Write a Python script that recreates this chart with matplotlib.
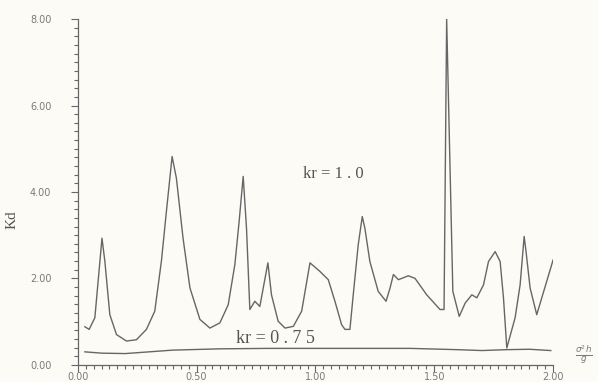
#!/usr/bin/env python3
"""
Redraw the scanned Kd vs sigma^2 h / g plot for kr = 1.0 and kr = 0.75.
"""
import matplotlib
matplotlib.use('Agg')
import matplotlib.pyplot as plt
from matplotlib.ticker import MultipleLocator, FormatStrFormatter

# kr = 1.0 curve
kr1_x = [0.03, 0.048, 0.072, 0.102, 0.114, 0.135, 0.163, 0.205, 0.247, 0.289,
         0.324, 0.352, 0.373, 0.397, 0.415, 0.443, 0.472, 0.514, 0.556, 0.598,
         0.633, 0.661, 0.679, 0.696, 0.71, 0.724, 0.745, 0.766, 0.80, 0.815,
         0.843, 0.872, 0.907, 0.942, 0.977, 1.019, 1.054, 1.082, 1.11, 1.124,
         1.145, 1.159, 1.18, 1.197, 1.208, 1.229, 1.264, 1.297, 1.314, 1.328,
         1.349, 1.391, 1.419, 1.468, 1.524, 1.541, 1.552, 1.578, 1.605, 1.63,
         1.658, 1.679, 1.707, 1.728, 1.756, 1.777, 1.791, 1.805, 1.84, 1.861,
         1.878, 1.886, 1.903, 1.931, 2.0]
kr1_y = [0.88, 0.82, 1.09, 2.93, 2.4, 1.16, 0.70, 0.55, 0.58, 0.82,
         1.24, 2.4, 3.55, 4.82, 4.32, 2.93, 1.78, 1.05, 0.85, 0.97,
         1.39, 2.32, 3.32, 4.36, 3.16, 1.28, 1.47, 1.35, 2.36, 1.62,
         1.01, 0.85, 0.89, 1.24, 2.36, 2.16, 1.97, 1.47, 0.93, 0.82,
         0.82, 1.62, 2.78, 3.43, 3.16, 2.39, 1.70, 1.47, 1.78, 2.09,
         1.97, 2.06, 2.0, 1.62, 1.28, 1.28, 8.0, 1.70, 1.12, 1.43,
         1.62, 1.55, 1.85, 2.39, 2.62, 2.39, 1.55, 0.39, 1.09, 1.85,
         2.97, 2.62, 1.78, 1.16, 2.43]

# kr = 0.75 curve
kr75_x = [0.03, 0.1, 0.2, 0.3, 0.4, 0.6, 0.8, 1.0, 1.2, 1.4, 1.6, 1.7, 1.8, 1.9, 1.99]
kr75_y = [0.30, 0.27, 0.26, 0.30, 0.34, 0.37, 0.38, 0.38, 0.38, 0.38, 0.35, 0.33, 0.35, 0.36, 0.33]

x_ticks = [0.0, 0.5, 1.0, 1.5, 2.0]
y_ticks = [0.0, 2.0, 4.0, 6.0, 8.0]

LINE = '#666666'
TEXT = '#7a7a7a'


def main():
    fig = plt.figure(figsize=(5.98, 3.82), dpi=100, facecolor='#fcfbf6')
    ax = fig.add_axes([0.130, 0.045, 0.795, 0.905])
    ax.set_facecolor('#fcfbf6')

    ax.plot(kr1_x, kr1_y, color=LINE, linewidth=1.0)
    ax.plot(kr75_x, kr75_y, color=LINE, linewidth=1.0)

    ax.set_xlim(0, 2.0)
    ax.set_ylim(0, 8.0)
    for side in ('top', 'right'):
        ax.spines[side].set_visible(False)
    for side in ('left', 'bottom'):
        ax.spines[side].set_color(LINE)
        ax.spines[side].set_linewidth(0.9)

    ax.set_xticks(x_ticks)
    ax.set_yticks(y_ticks)
    ax.xaxis.set_major_formatter(FormatStrFormatter('%.2f'))
    ax.yaxis.set_major_formatter(FormatStrFormatter('%.2f'))
    ax.xaxis.set_minor_locator(MultipleLocator(0.5 / 15))
    ax.yaxis.set_minor_locator(MultipleLocator(0.2))
    ax.tick_params(which='both', direction='out', color=LINE, width=0.8,
                   labelcolor=TEXT, labelsize=7)
    ax.tick_params(which='major', length=5)
    ax.tick_params(which='minor', length=3)
    ax.tick_params(axis='y', pad=14)
    ax.tick_params(axis='x', pad=0.5)

    ax.set_ylabel('Kd', family='Liberation Serif', fontsize=11, color='#555555')
    ax.yaxis.set_label_coords(-0.125, 0.42)

    ax.text(0.947, 4.41, 'kr = 1 . 0', family='Liberation Serif', fontsize=12,
            color='#555555', va='center', ha='left')
    ax.text(0.665, 0.62, 'kr = 0 . 7 5', family='Liberation Serif', fontsize=13,
            color='#555555', va='center', ha='left')

    ax.text(1.065, 0.03, r'$\frac{\sigma^2 h}{g}$', transform=ax.transAxes,
            fontsize=9, color=TEXT, ha='center', va='center')

    fig.savefig('out.png', dpi=100, facecolor=fig.get_facecolor())


if __name__ == '__main__':
    main()
